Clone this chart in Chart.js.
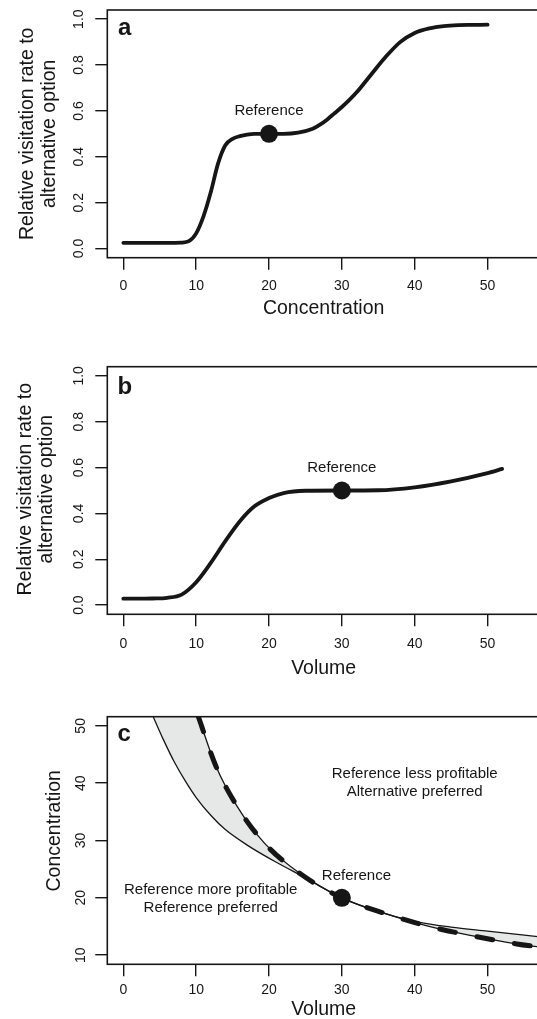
<!DOCTYPE html>
<html><head><meta charset="utf-8">
<script src="https://cdn.jsdelivr.net/npm/chart.js@4.4.1/dist/chart.umd.min.js"></script>
<style>
html,body{margin:0;padding:0;background:#fff;overflow:hidden;width:537px;height:1019px;position:relative;}
canvas{position:absolute;left:0;}
</style></head><body>
<canvas id="ca" width="540" height="340" style="top:0px"></canvas>
<canvas id="cb" width="540" height="340" style="top:340px"></canvas>
<canvas id="cc" width="540" height="339" style="top:680px"></canvas>
<script>
// ---------- data ----------
const xTicks = [0, 10, 20, 30, 40, 50];
const rateTicks = [0, 0.2, 0.4, 0.6, 0.8, 1.0];
const rateTickLabels = ['0.0', '0.2', '0.4', '0.6', '0.8', '1.0'];
const concTicks = [10, 20, 30, 40, 50];
const concTickLabels = ['10', '20', '30', '40', '50'];

// panel a: visitation vs concentration
const concX = [0, 2, 4, 6, 8, 9, 10, 11, 12, 13, 14, 15, 16, 17, 18, 20, 22, 24, 26, 27, 28, 29, 30, 31, 32, 34, 36, 38, 40, 42, 44, 46, 48, 50];
const rateA = [0.025, 0.025, 0.025, 0.025, 0.026, 0.032, 0.066, 0.14, 0.245, 0.37, 0.45, 0.478, 0.49, 0.497, 0.5, 0.5, 0.5, 0.505, 0.522, 0.54, 0.563, 0.59, 0.617, 0.647, 0.68, 0.758, 0.835, 0.9, 0.94, 0.96, 0.97, 0.974, 0.975, 0.976];
const refA = [20, 0.5];

// panel b: visitation vs volume
const volX = [0, 2, 4, 6, 8, 10, 12, 14, 16, 18, 20, 22, 25, 30, 35, 40, 45, 50, 52];
const rateB = [0.028, 0.028, 0.029, 0.032, 0.046, 0.10, 0.184, 0.279, 0.366, 0.431, 0.467, 0.489, 0.499, 0.5, 0.501, 0.514, 0.54, 0.576, 0.594];
const refB = [30, 0.5];

// panel c: indifference curves (concentration vs volume)
const lowerX = [4.1, 5.5, 7, 8.5, 10, 12, 14, 17, 21, 25, 30, 35, 40, 45, 50, 57.2];
const lowerY = [51.6, 47.6, 43.7, 40.4, 37.5, 34.4, 31.9, 29.2, 26.2, 23.5, 20, 17.6, 15.9, 14.9, 14.2, 13.2];
const upperX = [10.3, 12.7, 15.6, 19.4, 24.3, 30, 35.6, 41.7, 48, 54, 57.2];
const upperY = [51.6, 43, 36, 29.5, 24.2, 20, 17.4, 15.1, 13.35, 11.95, 11.4];
const refC = [30, 20];

// ---------- styling ----------
const FONT = "'Liberation Sans', Arial, Helvetica, sans-serif";
const INK = '#161616';
Chart.defaults.font.family = FONT;
Chart.defaults.color = INK;

const pts = (xs, ys) => xs.map((x, i) => ({x: x, y: ys[i]}));

const decor = {
  id: 'decor',
  afterDatasetsDraw(chart, args, o) {
    const ctx = chart.ctx, a = chart.chartArea, xs = chart.scales.x, ys = chart.scales.y;
    ctx.save();
    ctx.strokeStyle = INK; ctx.lineWidth = 1.6;
    ctx.strokeRect(a.left, a.top, a.right - a.left, a.bottom - a.top);
    ctx.fillStyle = INK;
    ctx.font = 'bold 24px ' + FONT; ctx.textAlign = 'left'; ctx.textBaseline = 'alphabetic';
    ctx.fillText(o.letter, o.letterX, o.letterY);
    ctx.font = '14px ' + FONT; ctx.textAlign = 'center'; ctx.textBaseline = 'middle';
    o.yTicks.forEach((v, i) => {
      const py = ys.getPixelForValue(v);
      ctx.save(); ctx.translate(o.yTickX, py); ctx.rotate(-Math.PI / 2);
      ctx.fillText(o.yTickLabels[i], 0, 0); ctx.restore();
    });
    ctx.font = '19.5px ' + FONT; ctx.textBaseline = 'alphabetic';
    o.yTitle.forEach((t, i) => {
      ctx.save(); ctx.translate(o.yTitleX[i], o.yTitleY); ctx.rotate(-Math.PI / 2);
      ctx.fillText(t, 0, 0); ctx.restore();
    });
    ctx.textBaseline = 'middle';
    ctx.fillText(o.xTitle, (a.left + a.right) / 2, o.xTitleY);
    ctx.font = '15px ' + FONT;
    o.notes.forEach(n => {
      const px = xs.getPixelForValue(n.x), py = ys.getPixelForValue(n.y);
      n.text.forEach((t, j) => ctx.fillText(t, px, py + (j - (n.text.length - 1) / 2) * 18));
    });
    ctx.restore();
  }
};

const bandFill = {
  id: 'bandFill',
  beforeDatasetsDraw(chart, args, o) {
    if (!o || !o.pair) return;
    const ctx = chart.ctx, a = chart.chartArea;
    ctx.save();
    ctx.beginPath(); ctx.rect(a.left, a.top, a.right - a.left, a.bottom - a.top); ctx.clip();
    ctx.beginPath();
    o.pair.forEach(idx => {
      const meta = chart.getDatasetMeta(idx);
      const line = meta.dataset;
      line.updateControlPoints(a, 'x');
      line.path(ctx);
      const p = meta.data, first = p[0], last = p[p.length - 1];
      ctx.lineTo(a.right + 300, last.y);
      ctx.lineTo(a.right + 300, a.top - 300);
      ctx.lineTo(first.x, a.top - 300);
      ctx.closePath();
    });
    ctx.fillStyle = o.color;
    ctx.fill('evenodd');
    ctx.restore();
  }
};

function curve(data, width, extra) {
  return Object.assign({
    data: data, borderColor: INK, borderWidth: width, pointRadius: 0,
    cubicInterpolationMode: 'monotone', borderCapStyle: 'round', borderJoinStyle: 'round', fill: false
  }, extra || {});
}
function refPoint(p) {
  return {data: [{x: p[0], y: p[1]}], showLine: false, pointRadius: 9, pointBackgroundColor: INK,
          pointBorderWidth: 0, pointBorderColor: INK};
}

function panel(id, cfg) {
  new Chart(document.getElementById(id), {
    type: 'line',
    data: {datasets: cfg.datasets},
    plugins: [bandFill, decor],
    options: {
      responsive: false, animation: false, devicePixelRatio: 1,
      layout: {autoPadding: false, padding: {top: cfg.top, left: 0, right: 0, bottom: 0}},
      plugins: {legend: {display: false}, tooltip: {enabled: false}, decor: cfg.decor, bandFill: cfg.band || {}},
      scales: {
        x: {
          type: 'linear', min: -2.2, max: 57.2,
          afterBuildTicks: s => { s.ticks = xTicks.map(v => ({value: v})); },
          afterFit: s => { s.height = cfg.xAxisH; },
          grid: {drawOnChartArea: false, drawTicks: true, tickLength: 12, color: INK, lineWidth: 1.4},
          border: {display: false},
          ticks: {font: {size: 14, family: FONT}, color: INK, padding: cfg.tickPad, maxRotation: 0, autoSkip: false,
                  callback: v => String(v)}
        },
        y: {
          type: 'linear', min: cfg.yMin, max: cfg.yMax,
          afterBuildTicks: s => { s.ticks = cfg.yTicks.map(v => ({value: v})); },
          afterFit: s => { s.width = 107.3; },
          grid: {drawOnChartArea: false, drawTicks: true, tickLength: 12, color: INK, lineWidth: 1.4},
          border: {display: false},
          ticks: {display: false}
        }
      }
    }
  });
}

panel('ca', {
  top: 10, xAxisH: 82.3, tickPad: 8, yMin: -0.04, yMax: 1.04, yTicks: rateTicks,
  datasets: [curve(pts(concX, rateA), 3.8), refPoint(refA)],
  decor: {letter: 'a', letterX: 118, letterY: 35, yTicks: rateTicks, yTickLabels: rateTickLabels, yTickX: 79.5,
          yTitle: ['Relative visitation rate to', 'alternative option'], yTitleX: [33, 54.5], yTitleY: 133.8,
          xTitle: 'Concentration', xTitleY: 309,
          notes: [{x: 20, y: 0.6, text: ['Reference']}]}
});

panel('cb', {
  top: 26.7, xAxisH: 65.7, tickPad: 9.6, yMin: -0.04, yMax: 1.04, yTicks: rateTicks,
  datasets: [curve(pts(volX, rateB), 3.8), refPoint(refB)],
  decor: {letter: 'b', letterX: 117.5, letterY: 54, yTicks: rateTicks, yTickLabels: rateTickLabels, yTickX: 79,
          yTitle: ['Relative visitation rate to', 'alternative option'], yTitleX: [30.5, 51.5], yTitleY: 149.2,
          xTitle: 'Volume', xTitleY: 328.7,
          notes: [{x: 30, y: 0.6, text: ['Reference']}]}
});

panel('cc', {
  top: 36.7, xAxisH: 54.7, tickPad: 5, yMin: 8.4, yMax: 51.6, yTicks: concTicks,
  datasets: [
    curve(pts(lowerX, lowerY), 1.3, {borderCapStyle: 'butt'}),
    curve(pts(upperX, upperY), 1.3, {borderCapStyle: 'butt'}),
    curve(pts(upperX, upperY), 5, {borderDash: [16, 22]}),
    refPoint(refC)
  ],
  band: {pair: [0, 1], color: '#e6e7e7'},
  decor: {letter: 'c', letterX: 117.5, letterY: 61, yTicks: concTicks, yTickLabels: concTickLabels, yTickX: 81,
          yTitle: ['Concentration'], yTitleX: [59.5], yTitleY: 150.8,
          xTitle: 'Volume', xTitleY: 329.5,
          notes: [
            {x: 40, y: 40, text: ['Reference less profitable', 'Alternative preferred']},
            {x: 12, y: 19.8, text: ['Reference more profitable', 'Reference preferred']},
            {x: 32, y: 23.9, text: ['Reference']}
          ]}
});
</script>
</body></html>
